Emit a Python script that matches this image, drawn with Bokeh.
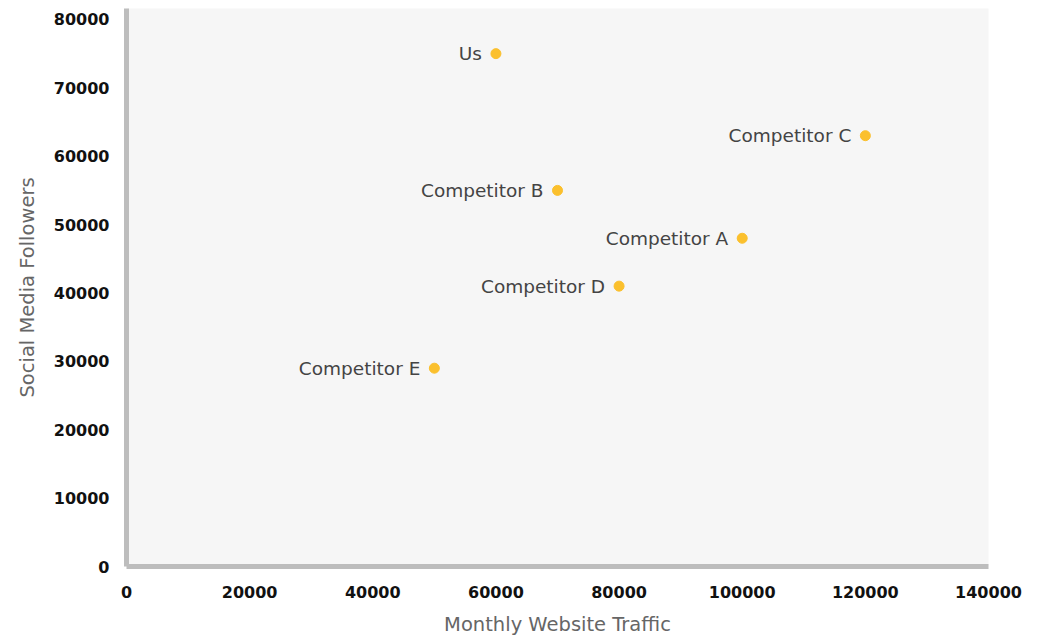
from bokeh.plotting import figure
from bokeh.models import ColumnDataSource, LabelSet, SingleIntervalTicker, NumeralTickFormatter, Range1d
from bokeh.core.properties import value
from bokeh.embed import file_html
from bokeh.resources import INLINE

names = ["Us", "Competitor A", "Competitor B", "Competitor C", "Competitor D", "Competitor E"]
traffic = [60000, 100000, 70000, 120000, 80000, 50000]
followers = [75000, 48000, 55000, 63000, 41000, 29000]

src = ColumnDataSource(dict(name=names, x=traffic, y=followers))

FONT = "DejaVu Sans"

p = figure(width=1040, height=638, output_backend="svg", toolbar_location=None,
           x_range=Range1d(0, 140000), y_range=Range1d(0, 81600),
           min_border_left=126, min_border_right=52, min_border_top=8, min_border_bottom=72)
p.background_fill_color = "#F6F6F6"
p.border_fill_color = "white"
p.outline_line_color = None
p.xgrid.grid_line_color = None
p.ygrid.grid_line_color = None

p.scatter("x", "y", source=src, size=10, marker="circle", color="#FBC02D", line_color="#FBC02D")
labels = LabelSet(x="x", y="y", text="name", source=src, x_offset=-14, y_offset=0,
                  text_align="right", text_baseline="middle", text_font=value(FONT),
                  text_font_size="18.5px", text_color="#444444")
p.add_layout(labels)

p.xaxis.ticker = SingleIntervalTicker(interval=20000)
p.yaxis.ticker = SingleIntervalTicker(interval=10000)
for ax in (p.xaxis, p.yaxis):
    ax.formatter = NumeralTickFormatter(format="0")
    ax.axis_line_color = "#BDBDBD"
    ax.axis_line_width = 5
    ax.major_tick_line_color = None
    ax.minor_tick_line_color = None
    ax.major_label_text_font = FONT
    ax.major_label_text_font_style = "bold"
    ax.major_label_text_font_size = "16px"
    ax.major_label_text_color = "#111111"
    ax.axis_label_text_font = FONT
    ax.axis_label_text_font_style = "normal"
    ax.axis_label_text_font_size = "19.5px"
    ax.axis_label_text_color = "#666666"
    ax.axis_label_standoff = 12

p.xaxis.axis_label = "Monthly Website Traffic"
p.yaxis.axis_label = "Social Media Followers"
p.xaxis.major_label_standoff = 13
p.yaxis.major_label_standoff = 11

open("out.html", "w").write(file_html(p, INLINE))
